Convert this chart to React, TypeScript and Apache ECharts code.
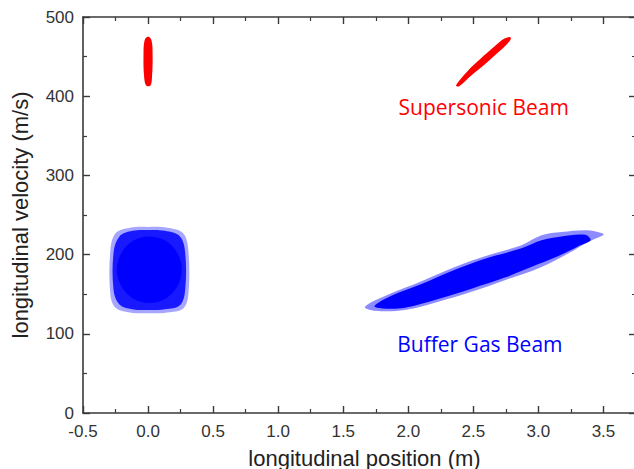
import React, { useEffect, useRef } from "react";
import * as echarts from "echarts";

// Axis settings
const xTicks = [-0.5, 0, 0.5, 1, 1.5, 2, 2.5, 3, 3.5];
const yTicks = [0, 100, 200, 300, 400, 500];

// Outlines of the point clouds, in data units [position (m), velocity (m/s)]
const supersonicNear: number[][] = [
  [0, 475.4], [0.027, 470.4], [0.035, 451.5], [0.031, 426.2], [0.019, 413.6],
  [-0.015, 413.6], [-0.031, 426.2], [-0.035, 451.5], [-0.027, 470.4],
];
const supersonicFar: number[][] = [
  [2.366, 413.6], [2.455, 431.6], [2.555, 447.2], [2.659, 462.3], [2.732, 472.1],
  [2.78, 474.8], [2.788, 472.3], [2.763, 466.6], [2.694, 455.7], [2.591, 440.6],
  [2.484, 426.1], [2.389, 412.4],
];
const bufferNearHalo: number[][] = [
  [-0.29, 150], [-0.29, 205], [-0.25, 227], [-0.14, 234], [0, 235], [0.15, 234], [0.27, 227],
  [0.31, 205], [0.31, 150], [0.27, 132], [0.15, 127], [0, 126], [-0.14, 127], [-0.25, 133],
];
const bufferNearMid: number[][] = [
  [-0.265, 155], [-0.265, 203], [-0.22, 223], [-0.12, 230], [0, 231], [0.13, 230], [0.245, 223],
  [0.285, 203], [0.285, 155], [0.245, 136], [0.13, 131], [0, 130], [-0.12, 131], [-0.22, 137],
];
const bufferNearCore: number[][] = [
  [0.26, 181], [0.225, 202], [0.13, 218], [0.01, 223], [-0.11, 218], [-0.205, 202],
  [-0.24, 181], [-0.205, 160], [-0.11, 144], [0.01, 139], [0.13, 144], [0.225, 160],
];
const bufferFarHalo: number[][] = [
  [1.667, 134.0], [1.846, 149.5], [2.102, 166.5], [2.358, 184.5], [2.614, 199.2], [2.87, 211.9],
  [3.024, 224.5], [3.177, 228.6], [3.382, 230.8], [3.497, 226.6], [3.497, 224.5], [3.382, 216.0],
  [3.228, 201.4], [3.024, 184.5], [2.742, 167.7], [2.486, 153.0], [2.23, 140.4], [1.974, 129.9],
  [1.743, 129.0],
];
const bufferFarCore: number[][] = [
  [1.74, 135], [1.87, 148], [2.102, 163], [2.358, 181], [2.614, 196], [2.87, 208],
  [3.024, 218], [3.177, 223], [3.36, 225], [3.4, 218], [3.3, 210], [3.15, 198],
  [3.0, 188], [2.742, 171], [2.486, 157], [2.23, 144], [1.974, 133], [1.8, 132],
];

// Annotation anchors (data units)
const supersonicLabel = { name: "Supersonic Beam", at: [2.58, 386] };
const bufferLabel = { name: "Buffer Gas Beam", at: [2.55, 87] };

const RED = "#ff0000";
const BLUE = "#0000ff";
const AXIS_COLOR = "#3a3a3a";
const LABEL_FONT = "'Liberation Sans', Arial, sans-serif";

export default function App() {
  const ref = useRef<HTMLDivElement>(null);

  useEffect(() => {
    if (!ref.current) return;
    const chart = echarts.init(ref.current, undefined, { renderer: "svg" });

    const layers = [
      { data: bufferNearHalo, color: BLUE, opacity: 0.35 },
      { data: bufferNearMid, color: BLUE, opacity: 0.85 },
      { data: bufferNearCore, color: BLUE, opacity: 1 },
      { data: bufferFarHalo, color: BLUE, opacity: 0.45 },
      { data: bufferFarCore, color: BLUE, opacity: 1 },
      { data: supersonicNear, color: RED, opacity: 1 },
      { data: supersonicFar, color: RED, opacity: 1 },
    ];

    const polySeries = layers.map((l) => ({
      type: "custom",
      coordinateSystem: "cartesian2d",
      xAxisIndex: 0,
      yAxisIndex: 0,
      silent: true,
      data: l.data,
      renderItem: (params: any, api: any) => {
        if (params.dataIndex !== 0) return null;
        const pts = l.data.map((p) => api.coord(p));
        return {
          type: "polygon",
          shape: { points: pts, smooth: 0.35 },
          style: { fill: l.color, opacity: l.opacity },
        };
      },
    }));

    const textSeries = [
      { lab: supersonicLabel, color: RED },
      { lab: bufferLabel, color: BLUE },
    ].map((t) => ({
      type: "custom",
      coordinateSystem: "cartesian2d",
      xAxisIndex: 0,
      yAxisIndex: 0,
      silent: true,
      data: [t.lab.at],
      renderItem: (params: any, api: any) => {
        const p = api.coord([api.value(0), api.value(1)]);
        return {
          type: "text",
          x: p[0],
          y: p[1],
          style: {
            text: t.lab.name,
            fill: t.color,
            fontSize: 21,
            fontFamily: "'Open Sans', 'Noto Sans', sans-serif",
            align: "center",
            verticalAlign: "middle",
            textAlign: "center",
            textVerticalAlign: "middle",
          },
        };
      },
    }));

    const xMin = xTicks[0];
    const xMax = 3.75;
    const yMin = yTicks[0];
    const yMax = yTicks[yTicks.length - 1];

    const commonLine = { show: true, lineStyle: { color: AXIS_COLOR, width: 1.6 } };
    const tick = { show: true, inside: true, length: 7, lineStyle: { color: AXIS_COLOR, width: 1.4 } };
    const minor = { show: true, splitNumber: 2, length: 4, lineStyle: { color: AXIS_COLOR, width: 1.2 } };

    chart.setOption({
      animation: false,
      grid: {
        left: 83,
        top: 17,
        bottom: 56,
        right: -2,
        containLabel: false,
        outerBoundsMode: "none",
      },
      xAxis: [
        {
          type: "value",
          position: "bottom",
          min: xMin,
          max: xMax,
          interval: 0.5,
          axisLine: { ...commonLine, onZero: false },
          axisTick: tick,
          minorTick: minor,
          splitLine: { show: false },
          axisLabel: {
            show: true,
            margin: 10,
            color: "#333",
            fontSize: 17,
            fontFamily: LABEL_FONT,
            showMaxLabel: false,
            formatter: (v: number) => (xTicks.includes(v) ? v.toFixed(1) : ""),
          },
          name: "longitudinal position (m)",
          nameLocation: "middle",
          nameGap: 34,
          nameTextStyle: {
            color: "#222",
            fontSize: 22,
            fontFamily: LABEL_FONT,
            padding: [0, 0, 0, 10],
          },
        },
        {
          type: "value",
          position: "top",
          min: xMin,
          max: xMax,
          interval: 0.5,
          axisLine: { ...commonLine, onZero: false },
          axisTick: tick,
          minorTick: minor,
          splitLine: { show: false },
          axisLabel: { show: false },
        },
      ],
      yAxis: [
        {
          type: "value",
          position: "left",
          min: yMin,
          max: yMax,
          interval: 100,
          axisLine: { ...commonLine, onZero: false },
          axisTick: tick,
          minorTick: minor,
          splitLine: { show: false },
          axisLabel: {
            show: true,
            margin: 9,
            color: "#333",
            fontSize: 17,
            fontFamily: LABEL_FONT,
          },
          name: "longitudinal velocity (m/s)",
          nameLocation: "middle",
          nameGap: 52,
          nameTextStyle: { color: "#222", fontSize: 22, fontFamily: LABEL_FONT },
        },
        {
          type: "value",
          position: "right",
          min: yMin,
          max: yMax,
          interval: 100,
          axisLine: { ...commonLine, onZero: false },
          axisTick: tick,
          minorTick: minor,
          splitLine: { show: false },
          axisLabel: { show: false },
        },
      ],
      series: [...polySeries, ...textSeries],
    });

    return () => chart.dispose();
  }, []);

  return (
    <div
      ref={ref}
      style={{ position: "fixed", left: 0, top: 0, width: 634, height: 469, background: "#fff" }}
    />
  );
}
